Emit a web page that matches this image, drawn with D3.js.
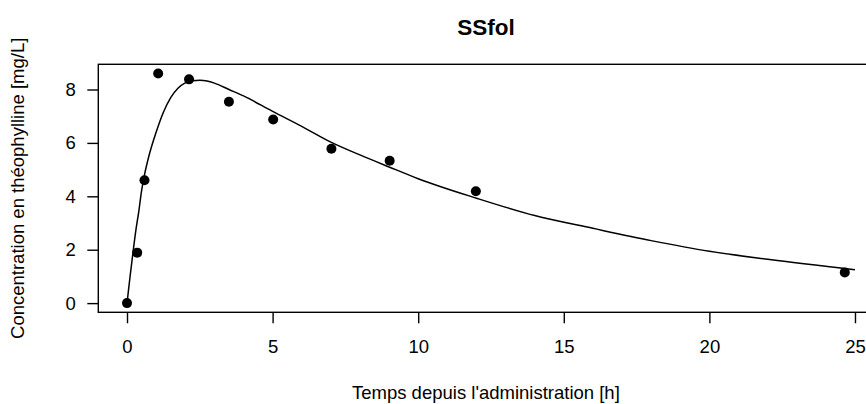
<!DOCTYPE html>
<html>
<head>
<meta charset="utf-8">
<script src="https://cdn.jsdelivr.net/npm/d3@7"></script>
<style>
  body { margin: 0; background: #fff; }
  svg { display: block; }
  text { font-family: "Liberation Sans", Arial, Helvetica, sans-serif; fill: #000; }
</style>
</head>
<body>
<svg id="chart" width="866" height="404"></svg>
<script>
// Theophylline concentrations, one subject (time in h, conc in mg/L)
const obsTime = [0, 0.35, 0.6, 1.07, 2.13, 3.5, 5.02, 7.02, 9.02, 11.98, 24.65];
const obsConc = [0, 1.89, 4.6, 8.6, 8.38, 7.54, 6.88, 5.78, 5.33, 4.19, 1.15];

// First-order absorption model (SSfol) fitted curve, sampled
const fitTime = [0, 0.1, 0.2, 0.3, 0.4, 0.5, 0.6, 0.75, 1, 1.25, 1.5, 1.75, 2, 2.25, 2.5, 2.75, 3, 3.5, 4, 5, 6, 7, 8, 9, 10, 12, 14, 16, 18, 20, 22, 25];
const fitConc = [0, 0.95, 1.85, 2.7, 3.4, 4.2, 4.8, 5.5, 6.4, 7.15, 7.7, 8.05, 8.25, 8.33, 8.35, 8.32, 8.24, 8.0, 7.76, 7.18, 6.62, 6.03, 5.55, 5.1, 4.66, 3.93, 3.28, 2.8, 2.34, 1.94, 1.64, 1.25];

const xTicks = [0, 5, 10, 15, 20, 25];
const yTicks = [0, 2, 4, 6, 8];

const title = "SSfol";
const xLabel = "Temps depuis l'administration [h]";
const yLabel = "Concentration en théophylline [mg/L]";

// Plot region
const plot = { left: 98.3, top: 64.3, right: 873.5, bottom: 312.3 };
const fontSize = 18.5;
const tickLen = 11;

const svg = d3.select("#chart");

// Axis ranges extended by 4% on each side
function padded(values) {
  const [lo, hi] = d3.extent(values);
  const d = (hi - lo) * 0.04;
  return [lo - d, hi + d];
}

const x = d3.scaleLinear().domain(padded(obsTime)).range([plot.left, plot.right]);
const y = d3.scaleLinear().domain(padded(obsConc)).range([plot.bottom, plot.top]);

// Frame
svg.append("rect")
  .attr("x", plot.left).attr("y", plot.top)
  .attr("width", plot.right - plot.left).attr("height", plot.bottom - plot.top)
  .attr("fill", "none").attr("stroke", "#000").attr("stroke-width", 1.4);

// X axis
const xAxis = svg.append("g")
  .attr("transform", `translate(0,${plot.bottom})`)
  .call(d3.axisBottom(x).tickValues(xTicks).tickFormat(d3.format("d"))
    .tickSize(tickLen).tickPadding(16.5));
xAxis.select(".domain").remove();
xAxis.selectAll(".tick line").attr("stroke", "#000").attr("stroke-width", 1.4);
xAxis.selectAll(".tick text").attr("font-size", fontSize)
  .attr("font-family", "Liberation Sans, Arial, sans-serif").attr("fill", "#000");

// Y axis
const yAxis = svg.append("g")
  .attr("transform", `translate(${plot.left},0)`)
  .call(d3.axisLeft(y).tickValues(yTicks).tickFormat(d3.format("d"))
    .tickSize(tickLen).tickPadding(11.5));
yAxis.select(".domain").remove();
yAxis.selectAll(".tick line").attr("stroke", "#000").attr("stroke-width", 1.4);
yAxis.selectAll(".tick text").attr("font-size", fontSize)
  .attr("font-family", "Liberation Sans, Arial, sans-serif").attr("fill", "#000");

// Fitted curve
const fit = fitTime.map((t, i) => ({ t, c: fitConc[i] }));
svg.append("path")
  .datum(fit)
  .attr("fill", "none")
  .attr("stroke", "#000")
  .attr("stroke-width", 1.5)
  .attr("d", d3.line().x(d => x(d.t)).y(d => y(d.c)).curve(d3.curveMonotoneX));

// Observed points
const obs = obsTime.map((t, i) => ({ t, c: obsConc[i] }));
svg.append("g").selectAll("circle")
  .data(obs)
  .join("circle")
  .attr("cx", d => x(d.t))
  .attr("cy", d => y(d.c))
  .attr("r", 5)
  .attr("fill", "#000");

// Titles
const cx = (plot.left + plot.right) / 2;
svg.append("text")
  .attr("x", cx).attr("y", 35)
  .attr("text-anchor", "middle")
  .attr("font-size", 22.5).attr("font-weight", "bold")
  .text(title);

svg.append("text")
  .attr("x", cx).attr("y", 399)
  .attr("text-anchor", "middle")
  .attr("font-size", fontSize)
  .text(xLabel);

svg.append("text")
  .attr("transform", `translate(24,${(plot.top + plot.bottom) / 2}) rotate(-90)`)
  .attr("text-anchor", "middle")
  .attr("font-size", fontSize)
  .text(yLabel);
</script>
</body>
</html>
